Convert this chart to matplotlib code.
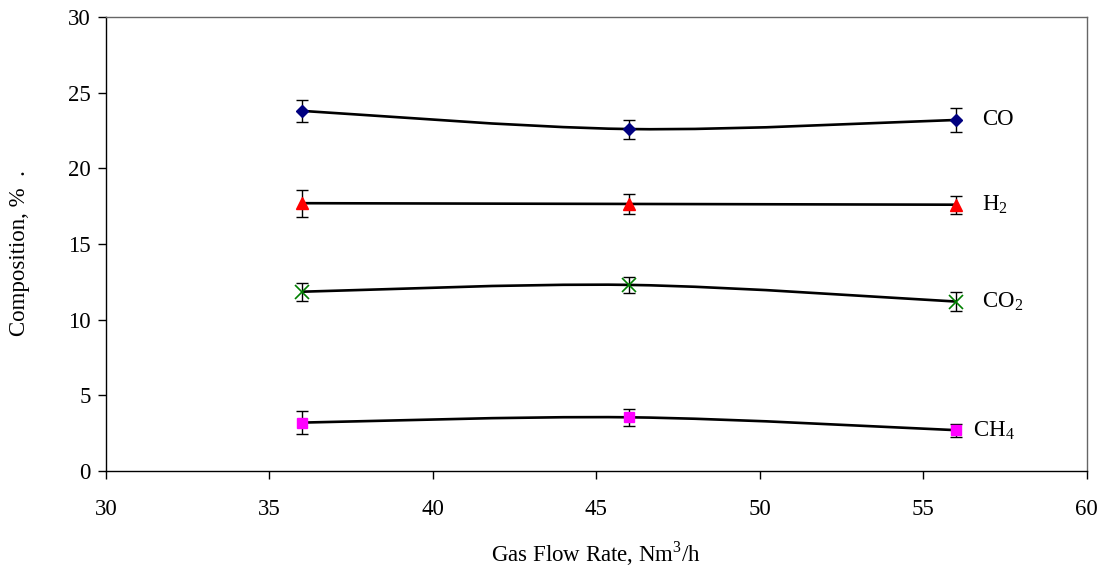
import matplotlib
matplotlib.use('Agg')
import matplotlib.pyplot as plt
import numpy as np
from matplotlib.path import Path
from matplotlib.patches import PathPatch

plt.rcParams['font.family'] = ['Liberation Serif', 'DejaVu Serif']
plt.rcParams['mathtext.fontset'] = 'custom'
plt.rcParams['mathtext.rm'] = 'Liberation Serif'

# data
flow = [36, 46, 56]
co = [23.8, 22.6, 23.2]
co_err = [0.75, 0.63, 0.8]
h2 = [17.7, 17.65, 17.6]
h2_err = [0.9, 0.67, 0.6]
co2 = [11.85, 12.3, 11.2]
co2_err = [0.6, 0.55, 0.63]
ch4 = [3.2, 3.55, 2.7]
ch4_err = [0.77, 0.57, 0.44]
labels = ['CO', r'H$_2$', r'CO$_2$', r'CH$_4$']

FS = 16.5


def smooth_path(x, y):
    # excel-like smoothed line: bezier segments with 1/6 tangent
    pts = np.column_stack([x, y]).astype(float)
    n = len(pts)
    verts = [pts[0]]
    codes = [Path.MOVETO]
    for i in range(n - 1):
        p_prev = pts[max(i - 1, 0)]
        p0 = pts[i]
        p1 = pts[i + 1]
        p_next = pts[min(i + 2, n - 1)]
        c1 = p0 + (p1 - p_prev) / 6.0
        c2 = p1 - (p_next - p0) / 6.0
        verts += [c1, c2, p1]
        codes += [Path.CURVE4] * 3
    return Path(verts, codes)


fig = plt.figure(figsize=(11.02, 5.71), dpi=100, facecolor='white')
ax = fig.add_axes([0.0962, 0.1751, 0.890, 0.795])

series = [
    (co, co_err, 'D', '#000080', 6, 1.0),
    (h2, h2_err, '^', '#FF0000', 8, 1.0),
    (co2, co2_err, 'x', '#008000', 10, 1.2),
    (ch4, ch4_err, 's', '#FF00FF', 6.5, 1.0),
]

for (vals, err, mk, col, ms, mew), lab in zip(series, labels):
    ax.add_patch(PathPatch(smooth_path(flow, vals), facecolor='none',
                           edgecolor='black', lw=1.9, zorder=2))
    ax.errorbar(flow, vals, yerr=err, fmt='none', ecolor='black',
                elinewidth=1.0, capsize=4.3, capthick=1.0, zorder=3)
    ax.plot(flow, vals, linestyle='none', marker=mk, color=col,
            markersize=ms, markeredgewidth=mew, zorder=4)
    xl = 56.53 if lab.startswith('CH') else 56.8
    ax.text(xl, vals[-1], lab, fontsize=FS, va='center', ha='left')

ax.set_xlim(30, 60)
ax.set_ylim(0, 30)
ax.set_xticks(np.arange(30, 61, 5))
ax.set_yticks(np.arange(0, 31, 5))
ax.tick_params(direction='out', length=6, width=1, labelsize=FS)
ax.tick_params(axis='x', pad=14)
ax.tick_params(axis='y', pad=5)

for s in ['left', 'bottom']:
    ax.spines[s].set_color('black')
    ax.spines[s].set_linewidth(1.0)
for s in ['top', 'right']:
    ax.spines[s].set_color('#666666')
    ax.spines[s].set_linewidth(1.0)

fig.text(596 / 1102, 1 - 562 / 571, r'Gas Flow Rate, Nm$^3$/h',
         fontsize=FS, ha='center', va='baseline')
fig.text(20 / 1102, 1 - 253 / 571, 'Composition, %  .', fontsize=FS,
         rotation=90, ha='center', va='center')

plt.savefig('out.png', dpi=100, facecolor='white')
plt.close()
